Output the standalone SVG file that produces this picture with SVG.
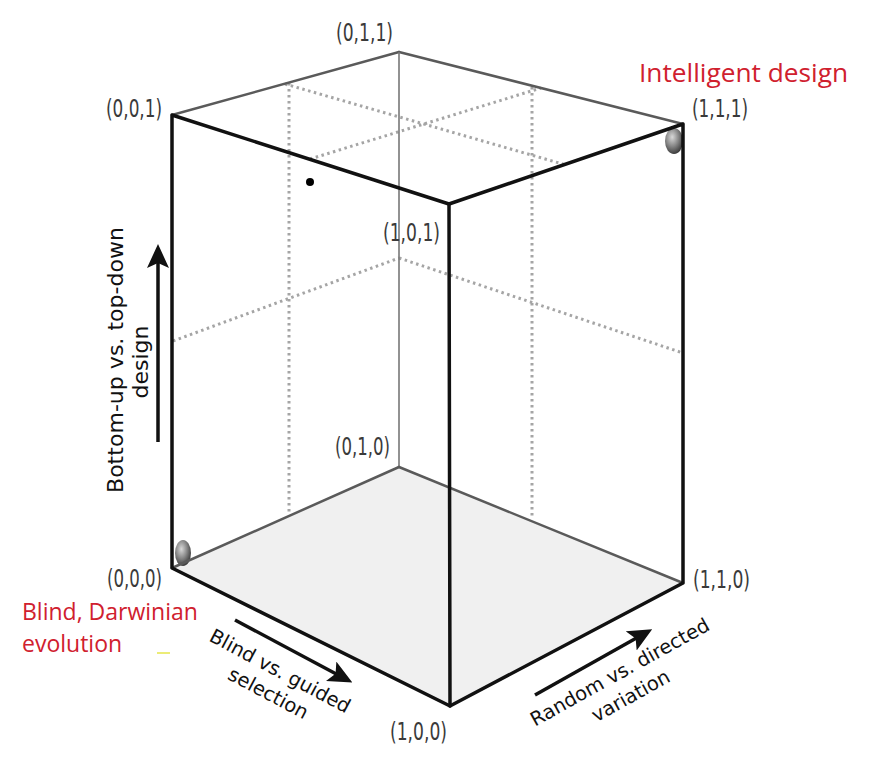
<svg xmlns="http://www.w3.org/2000/svg" width="875" height="777" viewBox="0 0 875 777">
<style>
.front{stroke:#111;stroke-width:3.5;fill:none;stroke-linecap:round;stroke-linejoin:round}
.back{stroke:#5a5a5a;stroke-width:2.5;fill:none;stroke-linecap:round}
.backthin{stroke:#777;stroke-width:1.6;fill:none}
.dot{stroke:#a5a5a5;stroke-width:3;fill:none;stroke-dasharray:2.5 3.5}
.coord{font-family:"Liberation Sans Narrow","DejaVu Sans Condensed","Liberation Sans",sans-serif;font-size:24px;fill:#3a3a3a}
.axis{font-family:"DejaVu Sans","Liberation Sans",sans-serif;fill:#111}
.red{font-family:"Open Sans","Noto Sans","Liberation Sans",sans-serif;fill:#d0202e}
.arr{stroke:#111;stroke-width:3.5;fill:none}
</style>
<defs>
<marker id="head" viewBox="0 0 24 22" refX="10" refY="11" markerWidth="24" markerHeight="22" markerUnits="userSpaceOnUse" orient="auto">
<path d="M0,0 L24,11 L0,22 L5,11 Z" fill="#111"/>
</marker>
<radialGradient id="ball" cx="0.4" cy="0.35" r="0.7">
<stop offset="0" stop-color="#d8d8d8"/>
<stop offset="0.5" stop-color="#888"/>
<stop offset="1" stop-color="#333"/>
</radialGradient>
</defs>
<rect width="875" height="777" fill="#fff"/>
<g id="bottom-face">
<polygon points="172,568 399,467 683,583 450,706" fill="#f0f0f0"/>
</g>
<g id="guides">
<line class="dot" x1="289" y1="83" x2="289" y2="515"/>
<line class="dot" x1="532" y1="87" x2="532" y2="519"/>
<line class="dot" x1="285" y1="84" x2="566" y2="165"/>
<line class="dot" x1="310" y1="159" x2="541" y2="88"/>
<line class="dot" x1="173" y1="341" x2="399" y2="258"/>
<line class="dot" x1="399" y1="258" x2="683" y2="353"/>
</g>
<g id="spheres">
<ellipse id="sphere-000" cx="183" cy="553" rx="8" ry="13" fill="url(#ball)"/>
<ellipse id="sphere-111" cx="674" cy="141" rx="9" ry="13" fill="url(#ball)"/>
</g>
<g id="cube-edges">
<line class="back" x1="172" y1="115" x2="399" y2="52"/>
<line class="back" x1="399" y1="52" x2="683" y2="124"/>
<line class="backthin" x1="399" y1="52" x2="399" y2="467"/>
<line class="back" x1="172" y1="568" x2="399" y2="467"/>
<line class="back" x1="399" y1="467" x2="683" y2="583"/>
<polyline class="front" points="683,124 449,204 172,115 172,568 450,706 683,583 683,124"/>
<line class="front" x1="449" y1="204" x2="450" y2="706"/>
</g>
<circle id="point" cx="310" cy="182" r="4" fill="#000"/>
<line x1="157" y1="653" x2="170" y2="653" stroke="#e6e64a" stroke-width="1.5"/>
<g id="connectors">
<line class="arr" x1="158" y1="442" x2="158" y2="258" marker-end="url(#head)"/>
<line class="arr" x1="235" y1="620" x2="340" y2="676" marker-end="url(#head)"/>
<line class="arr" x1="535" y1="695" x2="640" y2="636" marker-end="url(#head)"/>
</g>
<g id="vertex-labels">
<text id="v001" class="coord" x="106" y="117" textLength="56" lengthAdjust="spacingAndGlyphs">(0,0,1)</text>
<text id="v011" class="coord" x="336" y="41" textLength="57" lengthAdjust="spacingAndGlyphs">(0,1,1)</text>
<text id="v101" class="coord" x="383" y="241" textLength="57" lengthAdjust="spacingAndGlyphs">(1,0,1)</text>
<text id="v111" class="coord" x="692" y="117" textLength="56" lengthAdjust="spacingAndGlyphs">(1,1,1)</text>
<text id="v010" class="coord" x="335" y="455" textLength="55" lengthAdjust="spacingAndGlyphs">(0,1,0)</text>
<text id="v000" class="coord" x="107" y="587" textLength="55" lengthAdjust="spacingAndGlyphs">(0,0,0)</text>
<text id="v100" class="coord" x="390" y="740" textLength="57" lengthAdjust="spacingAndGlyphs">(1,0,0)</text>
<text id="v110" class="coord" x="693" y="588" textLength="57" lengthAdjust="spacingAndGlyphs">(1,1,0)</text>
</g>
<g id="axis-labels">
<g id="axis-z" transform="translate(123,360) rotate(-90)">
<text class="axis" x="0" y="0" font-size="22" text-anchor="middle" textLength="266" lengthAdjust="spacingAndGlyphs">Bottom-up vs. top-down</text>
<text class="axis" x="-2" y="25" font-size="22" text-anchor="middle">design</text>
</g>
<g id="axis-x" transform="translate(277,677) rotate(28)">
<text class="axis" x="0" y="0" font-size="19.5" text-anchor="middle">Blind vs. guided</text>
<text class="axis" x="0" y="25" font-size="19.5" text-anchor="middle">selection</text>
</g>
<g id="axis-y" transform="translate(623,678) rotate(-29)">
<text class="axis" x="0" y="0" font-size="19.5" text-anchor="middle">Random vs. directed</text>
<text class="axis" x="-2" y="26" font-size="19.5" text-anchor="middle">variation</text>
</g>
</g>
<g id="annotations">
<text id="intelligent" class="red" x="639" y="82" font-size="26" textLength="209" lengthAdjust="spacingAndGlyphs">Intelligent design</text>
<text id="darwinian" class="red" x="22" y="620" font-size="23">Blind, Darwinian</text>
<text id="darwinian2" class="red" x="22" y="652" font-size="23">evolution</text>
</g>
</svg>
